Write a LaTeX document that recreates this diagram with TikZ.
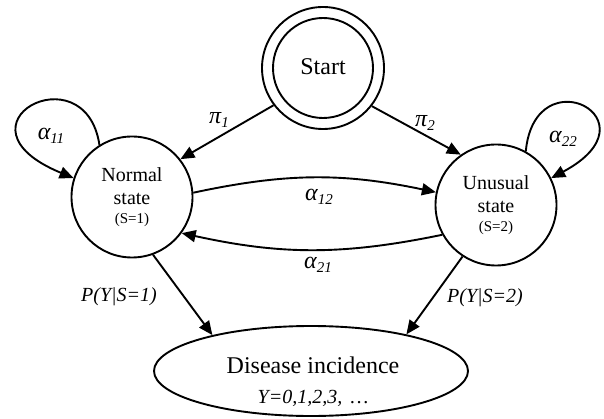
\documentclass[tikz,border=0pt]{standalone}
\usepackage{fontspec}
\setmainfont{Liberation Serif}
\usetikzlibrary{arrows.meta,shapes.geometric}
\newcommand{\gsub}[2]{#1\raisebox{-4pt}{\fontsize{15}{18}\selectfont #2}}
\tikzset{
  edge/.style={line width=1.9pt,-{Triangle[length=14pt,width=12pt]}},
  statebox/.style={draw,circle,line width=1.9pt,minimum size=121pt,inner sep=0pt,align=center,font=\fontsize{20}{24}\selectfont},
  lbl/.style={font=\fontsize{20}{24}\selectfont\itshape,inner sep=0pt},
  glbl/.style={font=\fontsize{24}{28}\selectfont\itshape,inner sep=0pt},
}
\begin{document}
\begin{tikzpicture}[x=1pt,y=-1pt]
\useasboundingbox (0,0) rectangle (604,419);
% start
\node[draw,circle,line width=1.9pt,minimum size=122pt,inner sep=0pt] (startouter) at (323,68) {};
\node[draw,circle,line width=1.9pt,minimum size=100pt,inner sep=0pt,font=\fontsize{24}{28}\selectfont] (start) at (323,68) {\raisebox{3pt}{Start}};
% states
\node[statebox] (normal) at (132,197) {Normal\\[-1pt]state\\[-5pt]{\fontsize{15}{17}\selectfont (S=1)}};
\node[statebox] (unusual) at (496,205) {Unusual\\[-1pt]state\\[-5pt]{\fontsize{15}{17}\selectfont (S=2)}};
% disease
\node[draw,ellipse,line width=1.9pt,minimum width=314pt,minimum height=90pt,inner sep=0pt] (disease) at (311,371) {};
\node[font=\fontsize{24}{28}\selectfont,inner sep=0pt] (dtitle) at (313,365) {Disease incidence};
\node[lbl] (dvals) at (313,398) {Y=0,1,2,3,\, \dots};
% edges
\draw[edge] (startouter.217) -- (normal.38);
\draw[edge] (startouter.322) -- (unusual.125);
\draw[edge] (normal.4) to[bend left=12] (unusual.168);
\draw[edge] (unusual.209) to[bend left=12] (normal.324);
\draw[edge] (normal.290) -- (disease.160);
\draw[edge] (unusual.237) -- (disease.21);
\draw[edge] (normal.122) .. controls (85,50) and (-55,125) .. (normal.162);
\draw[edge] (unusual.61) .. controls (535,55) and (660,120) .. (unusual.26);
% labels
\node[glbl] (lpi1) at (219,120) {\gsub{π}{1}};
\node[glbl] (lpi2) at (425,123) {\gsub{π}{2}};
\node[glbl] (la11) at (51,136) {\gsub{α}{11}};
\node[glbl] (la22) at (563,139) {\gsub{α}{22}};
\node[glbl] (la12) at (319,197) {\gsub{α}{12}};
\node[glbl] (la21) at (318,265) {\gsub{α}{21}};
\node[lbl] (lp1) at (119,297) {P(Y|S=1)};
\node[lbl] (lp2) at (485,298) {P(Y|S=2)};
\end{tikzpicture}
\end{document}
